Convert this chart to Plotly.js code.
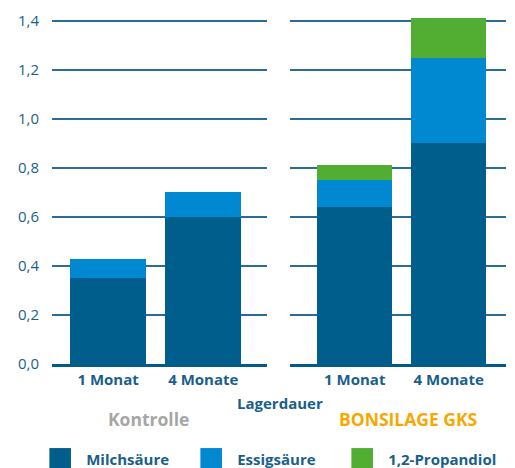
<!DOCTYPE html>
<html>
<head>
<meta charset="utf-8">
<script src="https://cdn.plot.ly/plotly-3.0.1.min.js"></script>
<style>html,body{margin:0;padding:0;background:#fff;}#chart{width:515px;height:468px;}</style>
</head>
<body>
<div id="chart"></div>
<script>
const categories = ["1 Monat", "4 Monate"];
const groups = ["Kontrolle", "BONSILAGE GKS"];
const seriesNames = ["Milchsäure", "Essigsäure", "1,2-Propandiol"];
const kontrolleMilch = [0.35, 0.60];
const kontrolleEssig = [0.08, 0.10];
const kontrolleProp = [0, 0];
const bonsilageMilch = [0.64, 0.90];
const bonsilageEssig = [0.11, 0.35];
const bonsilageProp = [0.06, 0.16];
const yTicks = [0, 0.2, 0.4, 0.6, 0.8, 1.0, 1.2, 1.4];
const yTickText = ["0,0", "0,2", "0,4", "0,6", "0,8", "1,0", "1,2", "1,4"];
const xTitle = "Lagerdauer";

const colors = ["#005e8c", "#0089d1", "#52ae33"];
const txtBlue = "#1a5f8a";
const font = "'Open Sans', sans-serif";

const leftData = [kontrolleMilch, kontrolleEssig, kontrolleProp];
const rightData = [bonsilageMilch, bonsilageEssig, bonsilageProp];
const traces = [];
for (let i = 0; i < 3; i++) {
  traces.push({type: "bar", x: categories, y: leftData[i], name: seriesNames[i],
    marker: {color: colors[i], line: {width: 0}}, xaxis: "x", yaxis: "y",
    legendgroup: "s" + i, showlegend: true, hoverinfo: "y"});
}
for (let i = 0; i < 3; i++) {
  traces.push({type: "bar", x: categories, y: rightData[i], name: seriesNames[i],
    marker: {color: colors[i], line: {width: 0}}, xaxis: "x2", yaxis: "y2",
    legendgroup: "s" + i, showlegend: false, hoverinfo: "y"});
}

const gridColor = "#2a6c94";
const yCommon = {range: [0, 1.42], tickvals: yTicks, showgrid: true, gridcolor: gridColor,
  gridwidth: 2, zeroline: false, showline: false, fixedrange: true};
const xCommon = {type: "category", showline: true, linecolor: "#005b8c", linewidth: 3,
  showgrid: false, zeroline: false, ticks: "", fixedrange: true,
  tickfont: {family: font, size: 15, color: txtBlue, weight: "bold"}};

const layout = {
  width: 515, height: 468,
  margin: {l: 52, r: 9, t: 16, b: 104},
  paper_bgcolor: "#fff", plot_bgcolor: "rgba(0,0,0,0)",
  barmode: "stack", bargap: 0.2,
  font: {family: font, color: txtBlue},
  showlegend: true,
  legend: {orientation: "h", x: 0.078, xanchor: "left", xref: "container",
    y: 0.019, yanchor: "middle", yref: "container",
    font: {family: font, size: 15, color: txtBlue, weight: "bold"},
    entrywidth: 106, entrywidthmode: "pixels", traceorder: "normal", borderwidth: 0},
  xaxis: Object.assign({}, xCommon, {domain: [0, 0.4736], range: [-0.59, 1.67], anchor: "y"}),
  xaxis2: Object.assign({}, xCommon, {domain: [0.524, 1], range: [-0.69, 1.61], anchor: "y2"}),
  yaxis: Object.assign({}, yCommon, {ticktext: yTickText, tickmode: "array", anchor: "x",
    ticklabelstandoff: 12, tickfont: {family: font, size: 15, color: txtBlue}}),
  yaxis2: Object.assign({}, yCommon, {matches: "y", showticklabels: false, anchor: "x2"}),
  annotations: [
    {text: xTitle, xref: "paper", yref: "paper", x: 0.502, y: -0.112, showarrow: false,
      xanchor: "center", yanchor: "middle", font: {family: font, size: 15, color: txtBlue, weight: "bold"}},
    {text: groups[0], xref: "paper", yref: "paper", x: 0.2115, y: -0.158, showarrow: false,
      xanchor: "center", yanchor: "middle", font: {family: font, size: 17.5, color: "#a6a6a6", weight: "bold"}},
    {text: groups[1], xref: "paper", yref: "paper", x: 0.784, y: -0.158, showarrow: false,
      xanchor: "center", yanchor: "middle", font: {family: font, size: 17.5, color: "#f6a800", weight: "bold"}}
  ]
};

Plotly.newPlot("chart", traces, layout, {staticPlot: true, displayModeBar: false}).then(function () {
  document.querySelectorAll(".legend [clip-path]").forEach(function (el) {
    el.removeAttribute("clip-path");
  });
  document.querySelectorAll(".legendpoints path").forEach(function (p) {
    const t = p.getAttribute("transform") || "";
    p.setAttribute("transform", t + " scale(1.8)");
  });
  document.querySelectorAll(".legend text.legendtext").forEach(function (t) {
    const x = parseFloat(t.getAttribute("x") || "40");
    t.setAttribute("x", x + 6);
  });
});
</script>
</body>
</html>
